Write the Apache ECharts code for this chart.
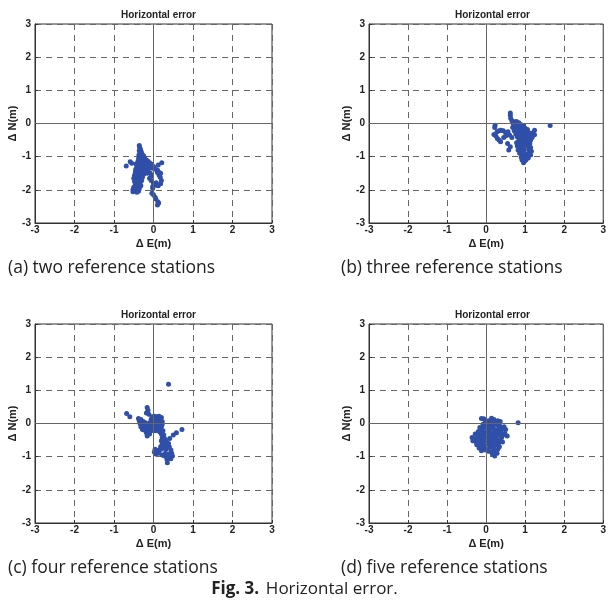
<!DOCTYPE html>
<html>
<head>
<meta charset="utf-8">
<script src="https://cdn.jsdelivr.net/npm/echarts@6/dist/echarts.min.js"></script>
<style>html,body{margin:0;padding:0;background:#fff;}#c{width:609px;height:605px;}</style>
</head>
<body>
<div id="c"></div>
<script>
const axisTicks = [-3, -2, -1, 0, 1, 2, 3];
const panelTitle = 'Horizontal error';
const xName = '\u0394 E(m)';
const yName = '\u0394 N(m)';
const captions = ['(a) two reference stations', '(b) three reference stations', '(c) four reference stations', '(d) five reference stations'];

const pointsA = [[-0.36,-0.66],[-0.35,-0.72],[-0.33,-0.78],[-0.36,-0.82],[-0.31,-0.85],[-0.34,-0.9],[-0.29,-0.92],[-0.37,-0.95],[-0.3,-0.98],[-0.25,-0.97],[-0.33,-1.02],[-0.27,-1.03],[-0.22,-1.05],[-0.38,-1.06],[-0.3,-1.08],[-0.24,-1.1],[-0.18,-1.1],[-0.35,-1.12],[-0.28,-1.14],[-0.2,-1.15],[-0.14,-1.14],[-0.4,-1.16],[-0.32,-1.18],[-0.25,-1.2],[-0.17,-1.2],[-0.1,-1.18],[-0.44,-1.22],[-0.36,-1.24],[-0.28,-1.26],[-0.2,-1.27],[-0.12,-1.25],[-0.06,-1.22],
[-0.69,-1.28],[-0.59,-1.15],[-0.55,-1.2],[0.21,-1.18],[0.12,-1.25],[0.13,-1.46],[0.07,-1.79],[0.0,-1.3],
[-0.42,-1.3],[-0.34,-1.32],[-0.26,-1.33],[-0.18,-1.35],[-0.1,-1.33],[-0.03,-1.35],[0.05,-1.38],[0.1,-1.4],[-0.45,-1.38],[-0.38,-1.4],[-0.3,-1.42],[-0.22,-1.44],[-0.14,-1.42],[-0.46,-1.46],[-0.4,-1.5],[-0.32,-1.52],[-0.25,-1.53],[-0.16,-1.5],[-0.48,-1.56],[-0.42,-1.6],[-0.35,-1.6],[-0.28,-1.62],[-0.5,-1.65],[-0.44,-1.68],[-0.37,-1.7],[-0.3,-1.72],[-0.48,-1.75],[-0.41,-1.78],[-0.34,-1.8],[-0.46,-1.84],[-0.39,-1.87],[-0.32,-1.88],[-0.5,-1.92],[-0.43,-1.95],[-0.36,-1.97],[-0.52,-2.0],[-0.45,-2.02],[-0.38,-2.04],[-0.52,-2.06],[-0.42,-2.07],
[-0.08,-1.5],[-0.05,-1.58],[-0.1,-1.65],[-0.06,-1.72],[0.0,-1.8],[0.06,-1.86],[0.12,-1.88],[0.18,-1.82],[0.2,-1.72],[0.17,-1.62],[0.14,-1.55],[0.18,-1.5],[0.1,-1.48],[-0.02,-1.9],[-0.02,-1.96],
[-0.04,-2.1],[0.0,-2.15],[0.04,-2.22],[0.06,-2.28],[0.11,-2.36],[0.1,-2.46],[0.13,-2.4]];

const pointsB = [[0.62,0.32],[0.62,0.25],[0.63,0.16],[0.66,0.08],
[0.23,-0.05],[0.22,-0.12],[0.2,-0.33],[0.25,-0.38],[0.29,-0.45],[0.33,-0.5],[0.37,-0.55],[0.28,-0.25],[0.33,-0.22],[0.38,-0.2],[0.44,-0.22],[0.5,-0.28],[0.5,-0.38],[0.56,-0.25],[0.6,-0.35],[0.66,-0.42],[0.58,-0.8],[0.62,-0.7],[0.55,-0.6],[0.45,-0.42],
[0.72,0.05],[0.78,0.06],[0.84,0.02],[0.7,-0.02],[0.76,-0.05],[0.82,-0.06],[0.9,-0.04],[0.96,-0.08],[0.68,-0.12],[0.74,-0.15],[0.8,-0.14],[0.88,-0.12],[0.94,-0.16],[1.0,-0.14],[1.06,-0.18],[0.72,-0.22],[0.78,-0.24],[0.86,-0.22],[0.92,-0.25],[0.98,-0.26],[1.04,-0.25],[1.1,-0.28],[0.76,-0.32],[0.84,-0.32],[0.9,-0.34],[0.96,-0.35],[1.02,-0.34],[1.08,-0.36],[1.14,-0.34],[0.8,-0.4],[0.88,-0.42],[0.94,-0.44],[1.0,-0.42],[1.06,-0.45],[1.12,-0.43],[1.18,-0.42],[0.84,-0.5],[0.9,-0.52],[0.96,-0.52],[1.02,-0.54],[1.08,-0.52],[1.14,-0.5],[0.78,-0.58],[0.86,-0.6],[0.92,-0.62],[1.0,-0.6],[1.06,-0.62],[1.12,-0.6],[0.8,-0.68],[0.86,-0.72],[0.94,-0.7],[1.08,-0.7],[1.14,-0.72],[0.82,-0.8],[0.9,-0.82],[0.98,-0.8],[1.1,-0.8],[1.16,-0.84],[0.86,-0.9],[0.92,-0.94],[1.0,-0.92],[1.1,-0.9],[1.14,-0.95],[0.9,-1.02],[0.96,-1.05],[1.04,-1.0],[1.08,-1.04],[0.92,-1.1],[0.98,-1.14],[1.02,-1.1],[0.96,-1.18],
[1.24,-0.2],[1.24,-0.34],[1.2,-0.28],[1.64,-0.06]];

const pointsC = [[0.38,1.18],[-0.68,0.3],[-0.6,0.2],[-0.16,0.48],[-0.14,0.4],[-0.18,0.32],[-0.12,0.28],
[-0.38,0.15],[-0.36,0.08],[-0.32,0.12],[-0.34,0.0],[-0.3,0.04],[-0.26,0.06],[-0.3,-0.06],[-0.24,-0.02],[-0.2,0.02],[-0.26,-0.12],[-0.2,-0.1],[-0.14,-0.06],[-0.22,-0.2],[-0.16,-0.18],[-0.1,-0.14],[-0.18,-0.28],[-0.12,-0.25],[-0.16,-0.38],[-0.1,-0.32],[-0.06,-0.22],[-0.28,-0.18],[-0.32,-0.1],
[-0.04,0.2],[0.02,0.22],[0.08,0.2],[0.14,0.22],[0.2,0.18],[-0.06,0.12],[0.0,0.14],[0.06,0.12],[0.12,0.14],[0.18,0.1],[0.22,0.06],[-0.08,0.04],[-0.02,0.06],[0.04,0.04],[0.1,0.06],[0.16,0.02],[0.22,-0.02],[-0.04,-0.04],[0.02,-0.02],[0.08,-0.06],[0.14,-0.04],[0.2,-0.1],[0.0,-0.12],[0.06,-0.14],[0.12,-0.12],[0.18,-0.18],[0.04,-0.22],[0.1,-0.2],[0.16,-0.26],[0.24,-0.22],
[0.2,-0.32],[0.26,-0.35],[0.22,-0.42],[0.28,-0.45],[0.2,-0.52],[0.26,-0.55],[0.32,-0.52],[0.22,-0.62],[0.28,-0.64],[0.18,-0.7],[0.3,-0.72],
[0.41,-0.45],[0.5,-0.35],[0.58,-0.28],[0.72,-0.18],[0.38,-0.6],
[0.04,-0.78],[0.08,-0.84],[0.14,-0.8],[0.2,-0.78],[0.32,-0.78],[0.4,-0.7],[0.44,-0.8],[0.46,-0.9],[0.48,-0.98],[0.44,-1.06],[0.38,-1.02],[0.34,-1.08],[0.28,-0.98],[0.22,-0.95],[0.14,-0.9],[0.06,-0.92],[0.02,-0.86],[0.35,-1.18],[0.3,-0.9],[0.4,-0.92]];

const pointsD = [[0.82,0.02],
[-0.12,0.15],[-0.06,0.14],[0.14,0.16],[0.2,0.12],[0.3,0.08],[0.36,0.06],[0.46,-0.1],[0.5,-0.18],[0.54,-0.38],[0.48,-0.3],[-0.02,0.06],[0.06,0.08],[0.12,0.04],[0.24,0.02],[-0.08,-0.02],[0.02,-0.04],[0.1,-0.08],[0.18,-0.06],[0.28,-0.04],[0.36,-0.08],[0.42,-0.16],[-0.16,-0.12],[-0.06,-0.12],[0.04,-0.16],[0.14,-0.14],[0.22,-0.18],[0.32,-0.16],[0.38,-0.24],[-0.2,-0.24],[-0.1,-0.22],[0.0,-0.26],[0.08,-0.24],[0.18,-0.28],[0.26,-0.26],[0.34,-0.3],[0.44,-0.34],[-0.28,-0.32],[-0.18,-0.34],[-0.08,-0.32],[0.02,-0.36],[0.12,-0.34],[0.22,-0.38],[0.3,-0.36],[0.4,-0.42],[-0.36,-0.42],[-0.3,-0.46],[-0.22,-0.42],[-0.12,-0.44],[-0.02,-0.42],[0.08,-0.46],[0.16,-0.44],[0.26,-0.48],[0.36,-0.5],[-0.34,-0.52],[-0.26,-0.56],[-0.16,-0.52],[-0.06,-0.54],[0.04,-0.52],[0.14,-0.56],[0.24,-0.54],[0.32,-0.6],[0.42,-0.56],[-0.24,-0.64],[-0.14,-0.62],[-0.04,-0.66],[0.06,-0.62],[0.16,-0.66],[0.26,-0.64],[0.34,-0.7],[-0.18,-0.74],[-0.08,-0.72],[0.02,-0.76],[0.1,-0.72],[0.2,-0.76],[0.3,-0.78],[-0.12,-0.82],[0.06,-0.84],[0.14,-0.86],[0.24,-0.84],[0.16,-0.92],[0.22,-0.98],[0.28,-0.9],[-0.02,-0.8]];

const panels = [pointsA, pointsB, pointsC, pointsD];
const gridPos = [{left:35, top:24}, {left:369, top:24}, {left:35, top:324}, {left:369, top:324}];
const GW = 237, GH = 199;

const chart = echarts.init(document.getElementById('c'), null, {renderer:'canvas'});
const labelStyle = {fontFamily:'Liberation Sans, Arial, sans-serif', fontWeight:'bold', fontSize:10, color:'#222'};
const option = {
  animation:false,
  backgroundColor:'#fff',
  title: gridPos.map(g => ({
    text: panelTitle, left: g.left + GW/2, top: g.top - 19, textAlign:'center',
    textStyle:{fontFamily:'Liberation Sans, Arial, sans-serif', fontWeight:'bold', fontSize:10, color:'#222'}
  })),
  grid: gridPos.map(g => ({left:g.left, top:g.top, width:GW, height:GH, show:true, borderColor:'#333', borderWidth:1, backgroundColor:'#fff'})),
  xAxis: gridPos.map((g,i) => ({
    type:'value', gridIndex:i, min:axisTicks[0], max:axisTicks[axisTicks.length-1], interval:1,
    name: xName, nameLocation:'middle', nameGap:15,
    nameTextStyle:{fontFamily:'Liberation Sans, Arial, sans-serif', fontWeight:'bold', fontSize:11, color:'#222'},
    axisLine:{onZero:false, lineStyle:{color:'#333'}},
    axisTick:{inside:true, length:3, lineStyle:{color:'#333'}},
    axisLabel:Object.assign({margin:2}, labelStyle),
    splitLine:{show:true, lineStyle:{type:[6,5], color:'#666', width:1}}
  })),
  yAxis: gridPos.map((g,i) => ({
    type:'value', gridIndex:i, min:axisTicks[0], max:axisTicks[axisTicks.length-1], interval:1,
    name: yName, nameLocation:'middle', nameGap:17, nameRotate:90,
    nameTextStyle:{fontFamily:'Liberation Sans, Arial, sans-serif', fontWeight:'bold', fontSize:11, color:'#222'},
    axisLine:{onZero:false, lineStyle:{color:'#333'}},
    axisTick:{inside:true, length:3, lineStyle:{color:'#333'}},
    axisLabel:Object.assign({margin:4}, labelStyle),
    splitLine:{show:true, lineStyle:{type:[6,5], color:'#666', width:1}}
  })),
  series: panels.map((pts,i) => ({
    type:'scatter', xAxisIndex:i, yAxisIndex:i, data:pts, symbol:'circle', symbolSize:5,
    itemStyle:{color:'#2f4fa8', opacity:1},
    markLine:{silent:true, symbol:'none', label:{show:false}, animation:false,
      lineStyle:{type:'solid', color:'#666', width:1},
      data:[{xAxis:0},{yAxis:0}]}
  })),
  graphic: [
    {type:'text', left:8, top:259, style:{text:captions[0], font:'17.5px "Open Sans", sans-serif', fill:'#222'}},
    {type:'text', left:341, top:259, style:{text:captions[1], font:'17.5px "Open Sans", sans-serif', fill:'#222'}},
    {type:'text', left:8, top:559, style:{text:captions[2], font:'17.5px "Open Sans", sans-serif', fill:'#222'}},
    {type:'text', left:341, top:559, style:{text:captions[3], font:'17.5px "Open Sans", sans-serif', fill:'#222'}},
    {type:'text', left:'center', top:581, style:{
      text:'{b|Fig. 3.}  {n|Horizontal error.}',
      rich:{b:{fontFamily:'Open Sans, sans-serif', fontWeight:'bold', fontSize:17, fill:'#222'},
            n:{fontFamily:'Open Sans, sans-serif', fontSize:17, fill:'#222'}}
    }}
  ]
};
chart.setOption(option);
</script>
</body>
</html>
